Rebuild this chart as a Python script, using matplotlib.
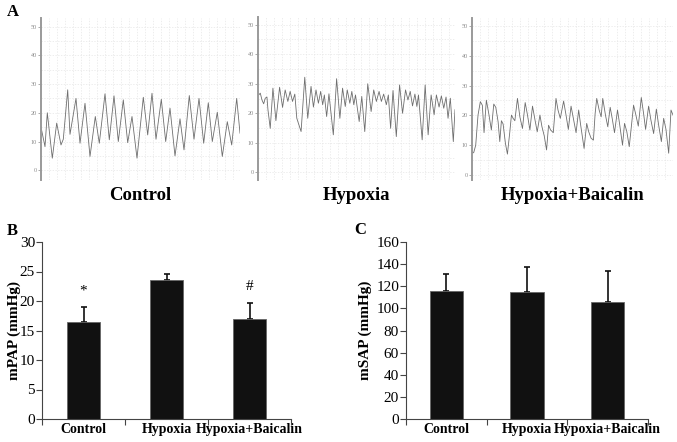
import numpy as np
import matplotlib.pyplot as plt
from matplotlib.ticker import MultipleLocator, FixedLocator

plt.rcParams['font.family'] = ['Liberation Serif', 'DejaVu Serif']

# --- panel A: pressure traces (time position, mmHg) ---
control_t = [0, 4, 6.3, 11.3, 15.7, 20, 22.3, 26.7, 29, 35, 39, 44, 49, 54.3, 58.3,
             64, 68.3, 73, 77.3, 82.3, 86.7, 91, 96, 102.3, 106.7, 111, 115, 120.3,
             124.7, 129, 134, 139, 143, 148.3, 153, 158, 162.7, 167.3, 171.3, 176.3,
             181.3, 186.3, 190.7, 195.7, 199]
control_p = [15, 8.2, 20, 4.2, 16.4, 8.8, 10.8, 28, 12.5, 25, 9.4, 23.3, 4.8, 18.7, 9.4,
             26.6, 10.6, 25.9, 10, 24.5, 9.6, 18.7, 4.2, 25.4, 12.3, 26.8, 10.8, 24.7,
             10, 21.6, 5, 17.9, 7.1, 26, 10.8, 25, 9.4, 23.5, 10, 20.2,
             4.8, 16.9, 8.8, 25, 12.9]

hypoxia_t = [0.7, 2.3, 4, 5.7, 7.3, 9, 10, 12.3, 15, 18, 21.7, 24.7, 27.3, 30, 32.3,
             34.7, 37, 39, 43.3, 47, 50, 53.3, 55.7, 58.3, 60.7, 63, 65, 66.7, 69, 71.3,
             75.7, 79, 82.3, 85, 87.7, 89.7, 92.3, 94.3, 96.3, 98, 101.7, 104.3, 107.3,
             110.3, 113.7, 116.3, 119, 121.7, 124, 126.3, 129, 131, 133.3, 135.7, 139,
             142.3, 145.3, 148.3, 150.7, 153, 155.3, 157.7, 159.7, 161.3, 165, 168, 171,
             174, 177, 179.3, 182, 184.3, 186.7, 189, 191, 193.3, 196.3, 198]
hypoxia_p = [26.2, 26.8, 24.5, 23.2, 25.1, 25.5, 21.2, 14.9, 28.5, 17.5, 28.8, 22, 27.9,
             24, 27.4, 24, 26.5, 18.3, 13.8, 32.2, 18.3, 29.1, 22.1, 27.9, 23.4, 27.4,
             22.9, 26.2, 18.9, 26.6, 12.7, 31.7, 18.3, 28.5, 22.3, 27.9, 23.4, 27.4, 22.9,
             26.2, 17.2, 25.7, 13.8, 30, 20.6, 27.9, 24, 27.4, 24, 26.5, 22.9, 26.2, 14.9,
             27.7, 12.1, 29.6, 20, 27.9, 24.5, 27.4, 22.5, 26.5, 22.3, 26.2, 11, 29.6,
             12.7, 26.2, 19.5, 26.2, 22.1, 25.9, 21.7, 25.5, 18.3, 25.1, 10.4, 21.2]

baicalin_t = [0, 1.7, 3.7, 6, 8.3, 10.3, 12, 14.3, 16.7, 19.3, 21.7, 23.7, 26, 27.7, 29.3,
              31, 33.3, 35.3, 37.7, 39.3, 41, 42.7, 45.3, 47.7, 50.3, 53, 55.3, 57.7, 60.3,
              62.7, 65, 67.7, 69.7, 72, 74.3, 76.3, 78.3, 81, 83.7, 85.7, 88, 91.3, 93.7,
              96, 98.7, 101, 103.7, 106.3, 108.3, 111.7, 114.3, 116.3, 118.7, 121, 122.7,
              124.3, 126.7, 128.7, 130.3, 133, 135.3, 137.7, 139.7, 142, 145, 147, 150,
              152, 154.3, 156.7, 161, 163, 165.7, 168.7, 171, 173, 176, 178.3, 181, 183.7,
              186, 188.7, 191, 193.3, 196, 198.3, 200.3]
baicalin_p = [7.3, 7.5, 10, 20.1, 24.6, 23.4, 14.2, 25.1, 20.6, 15.1, 23.8, 22.7, 17.9,
              11.2, 18.2, 17.1, 10.6, 7, 14.5, 20.1, 19, 18.2, 25.7, 19.5, 15.6, 24.3, 20.1,
              15.1, 23.1, 18.6, 14.5, 20.1, 16.2, 13.1, 8.4, 16.7, 15.1, 14.2, 25.7, 21.8,
              19, 24.8, 20.1, 15.3, 23.1, 19, 14.2, 21.8, 16.7, 8.9, 17.3, 14.5, 12.3, 11.7,
              20.6, 25.7, 21.8, 19.5, 25.7, 20.1, 16.2, 22.7, 19, 14.2, 21.8, 17.3, 10,
              17.3, 14.5, 9.5, 23.4, 20.6, 16.4, 26, 20.6, 15.3, 23.1, 18.4, 13.9, 22.1,
              16.7, 11.2, 19, 15.3, 7.3, 21.8, 20.1]

traces = [("Control", control_t, control_p),
          ("Hypoxia", hypoxia_t, hypoxia_p),
          ("Hypoxia+Baicalin", baicalin_t, baicalin_p)]

# --- panels B and C: bar data ---
groups = ["Control", "Hypoxia", "Hypoxia+Baicalin"]
mpap = [16.4, 23.6, 17.0]
mpap_err = [2.6, 0.9, 2.7]
msap = [115.5, 115.0, 106.0]
msap_err = [16.0, 22.0, 28.0]
mpap_marks = ["*", "", "#"]

W, H = 677, 442
fig = plt.figure(figsize=(W / 100, H / 100), dpi=100)


def box(l, r, top, bot):
    return [l / W, 1 - bot / H, (r - l) / W, (bot - top) / H]


# trace axes: (left, right, top, bottom) px and y-limits
trace_boxes = [((41, 240, 18, 180), (-3.4, 53)),
               ((258, 455, 17, 180), (-2.6, 52.6)),
               ((472, 673, 18, 180), (-1.7, 52.7))]
label_x = [140, 356, 573]

for (name, t, p), (bx, yl), lx in zip(traces, trace_boxes, label_x):
    ax = fig.add_axes(box(*bx))
    ax.plot(t, p, color='#6e6e6e', lw=0.6)
    ax.set_xlim(0, max(t))
    ax.set_ylim(*yl)
    ax.yaxis.set_major_locator(MultipleLocator(10))
    ax.yaxis.set_minor_locator(MultipleLocator(5))
    ax.xaxis.set_major_locator(MultipleLocator(8))
    ax.grid(True, which='both', color='#e6e6e6', lw=0.5, ls=(0, (2, 2)))
    ax.tick_params(axis='y', labelsize=4.5, colors='#8a8a8a', length=2, width=0.5, pad=1)
    ax.tick_params(axis='y', which='minor', length=0)
    ax.tick_params(axis='x', length=0, labelbottom=False)
    for s in ['top', 'right', 'bottom']:
        ax.spines[s].set_visible(False)
    ax.spines['left'].set_color('#9a9a9a')
    ax.spines['left'].set_linewidth(1.4)
    fig.text(lx / W, 1 - 196 / H, name, ha='center', va='center',
             fontsize=13.5, fontweight='bold')

fig.text(13 / W, 1 - 12 / H, "A", ha='center', va='center', fontsize=12, fontweight='bold')
fig.text(12 / W, 1 - 231 / H, "B", ha='center', va='center', fontsize=12, fontweight='bold')
fig.text(360 / W, 1 - 230 / H, "C", ha='center', va='center', fontsize=12, fontweight='bold')


def bar_panel(rect, vals, errs, ymax, ystep, ylabel, width, label_x, marks=None):
    ax = fig.add_axes(rect)
    x = np.arange(len(groups))
    ax.bar(x, vals, width=width, color='#111111', edgecolor='#666666', lw=0.6, zorder=2)
    ax.errorbar(x, vals, yerr=[np.zeros(len(errs)), errs], fmt='none',
                ecolor='#111111', elinewidth=1.2, capsize=2.5, capthick=1.2, zorder=1)
    if marks:
        for xi, v, e, m in zip(x, vals, errs, marks):
            if m:
                ax.text(xi, v + e + 0.092 * ymax, m, ha='center', va='center',
                        fontsize=11)
    ax.set_xlim(-0.5, len(groups) - 0.5)
    ax.set_ylim(0, ymax)
    ax.yaxis.set_major_locator(MultipleLocator(ystep))
    ax.set_xticks(x)
    ax.set_xticklabels(groups, fontweight='bold', fontsize=10)
    ax.xaxis.set_minor_locator(FixedLocator([-0.5, 0.5, 1.5, 2.5]))
    ax.tick_params(axis='x', which='major', length=0, pad=3)
    ax.tick_params(axis='x', which='minor', length=4, width=0.8, color='#444444')
    ax.tick_params(axis='y', labelsize=11, length=4, width=0.8, color='#444444', pad=1)
    for s in ['top', 'right']:
        ax.spines[s].set_visible(False)
    for s in ['left', 'bottom']:
        ax.spines[s].set_color('#444444')
        ax.spines[s].set_linewidth(0.8)
    ax.set_ylabel(ylabel, fontweight='bold', fontsize=11)
    ax.yaxis.set_label_coords(label_x, 0.5)
    return ax


bar_panel(box(42, 291, 242, 419), mpap, mpap_err, 30, 5, "mPAP (mmHg)", 0.4, -0.085,
          mpap_marks)
bar_panel(box(406, 648, 242, 419), msap, msap_err, 160, 20, "mSAP (mmHg)", 0.41, -0.14)

fig.savefig("out.png", dpi=100)
